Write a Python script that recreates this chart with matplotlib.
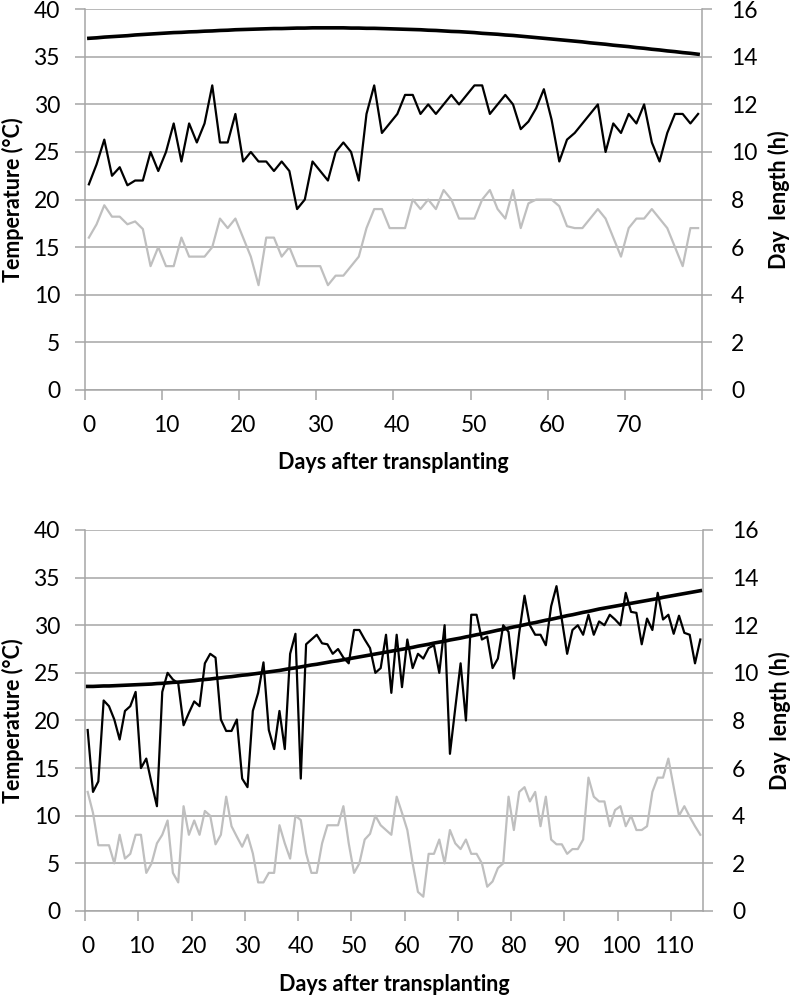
import numpy as np
import matplotlib
matplotlib.use('Agg')
import matplotlib.pyplot as plt

plt.rcParams['font.family'] = ['Lato', 'DejaVu Sans']

# ---- data: first season (80 days) ----
tmax_1 = [21.6, 23.7, 26.3, 22.5, 23.4, 21.5, 22.0, 22.0, 25.0, 23.0,
          25.0, 28.0, 24.0, 28.0, 26.0, 28.0, 32.0, 26.0, 26.0, 29.0,
          24.0, 25.0, 24.0, 24.0, 23.0, 24.0, 23.0, 19.0, 20.0, 24.0,
          23.0, 22.0, 25.0, 26.0, 25.0, 22.0, 29.0, 32.0, 27.0, 28.0,
          29.0, 31.0, 31.0, 29.0, 30.0, 29.0, 30.0, 31.0, 30.0, 31.0,
          32.0, 32.0, 29.0, 30.0, 31.0, 30.0, 27.4, 28.2, 29.6, 31.6,
          28.4, 24.0, 26.3, 27.0, 28.0, 29.0, 30.0, 25.0, 28.0, 27.0,
          29.0, 28.0, 30.0, 26.0, 24.0, 27.0, 29.0, 29.0, 28.0, 29.0]
tmin_1 = [16.0, 17.4, 19.4, 18.2, 18.2, 17.4, 17.7, 16.9, 13.0, 15.0,
          13.0, 13.0, 16.0, 14.0, 14.0, 14.0, 15.0, 18.0, 17.0, 18.0,
          16.0, 14.0, 11.0, 16.0, 16.0, 14.0, 15.0, 13.0, 13.0, 13.0,
          13.0, 11.0, 12.0, 12.0, 13.0, 14.0, 17.0, 19.0, 19.0, 17.0,
          17.0, 17.0, 20.0, 19.0, 20.0, 19.0, 21.0, 20.0, 18.0, 18.0,
          18.0, 20.0, 21.0, 19.0, 18.0, 21.0, 17.0, 19.6, 20.0, 20.0,
          20.0, 19.3, 17.2, 17.0, 17.0, 18.0, 19.0, 18.0, 16.0, 14.0,
          17.0, 18.0, 18.0, 19.0, 18.0, 17.0, 15.0, 13.0, 17.0, 17.0]
daylen_1 = [14.78, 14.80, 14.83, 14.85, 14.87, 14.89, 14.92, 14.94, 14.96, 14.98,
            15.00, 15.02, 15.03, 15.05, 15.06, 15.08, 15.09, 15.11, 15.12, 15.14,
            15.15, 15.16, 15.17, 15.18, 15.19, 15.19, 15.20, 15.21, 15.21, 15.22,
            15.22, 15.22, 15.22, 15.22, 15.21, 15.21, 15.20, 15.20, 15.19, 15.18,
            15.17, 15.16, 15.15, 15.14, 15.12, 15.11, 15.09, 15.07, 15.06, 15.04,
            15.02, 14.99, 14.97, 14.95, 14.92, 14.90, 14.87, 14.84, 14.81, 14.78,
            14.75, 14.72, 14.69, 14.66, 14.63, 14.59, 14.56, 14.53, 14.49, 14.46,
            14.43, 14.39, 14.36, 14.32, 14.29, 14.25, 14.22, 14.18, 14.15, 14.11]

# ---- data: second season (116 days) ----
tmax_2 = [19.0, 12.5, 13.6, 22.1, 21.5, 20.1, 18.0, 21.0, 21.5, 23.0,
          15.0, 16.0, 13.4, 11.0, 23.0, 25.0, 24.3, 23.9, 19.5, 20.8,
          22.0, 21.5, 26.0, 27.0, 26.6, 20.1, 18.9, 18.9, 20.1, 13.9,
          13.0, 21.0, 22.9, 26.1, 19.0, 17.0, 21.0, 17.0, 27.0, 29.1,
          13.9, 28.0, 28.5, 29.0, 28.1, 28.0, 27.0, 27.5, 26.6, 26.0,
          29.5, 29.5, 28.5, 27.6, 25.0, 25.5, 29.0, 22.9, 29.0, 23.5,
          28.5, 25.5, 27.0, 26.5, 27.6, 27.9, 25.0, 30.0, 16.5, 21.3,
          26.0, 20.0, 31.1, 31.1, 28.5, 28.8, 25.5, 26.5, 30.0, 29.3,
          24.4, 29.2, 33.1, 30.0, 29.0, 29.0, 27.9, 32.0, 34.1, 30.6,
          27.0, 29.5, 30.0, 29.0, 31.1, 29.0, 30.4, 30.0, 31.1, 30.6,
          30.0, 33.4, 31.4, 31.3, 28.0, 30.7, 29.5, 33.4, 30.6, 31.1,
          29.1, 31.0, 29.2, 29.0, 26.0, 28.5]
tmin_2 = [12.5, 10.3, 6.9, 6.9, 6.9, 5.0, 8.0, 5.5, 6.0, 8.0,
          8.0, 4.0, 5.0, 7.1, 8.0, 9.5, 4.0, 3.0, 11.0, 8.0,
          9.5, 8.0, 10.5, 10.0, 7.0, 8.0, 12.0, 8.9, 7.8, 6.75,
          8.0, 6.05, 3.0, 3.0, 4.0, 4.0, 9.0, 7.1, 5.5, 10.0,
          9.55, 6.05, 4.0, 4.0, 7.1, 9.0, 9.0, 9.0, 11.0, 7.1,
          4.0, 5.0, 7.5, 8.1, 10.0, 9.0, 8.5, 8.0, 12.0, 10.3,
          8.5, 5.0, 2.0, 1.5, 6.0, 6.0, 7.5, 5.0, 8.5, 7.1,
          6.5, 7.5, 6.0, 6.0, 5.0, 2.55, 3.1, 4.5, 5.0, 12.0,
          8.5, 12.5, 13.0, 11.5, 12.5, 8.9, 12.0, 7.5, 7.0, 7.0,
          6.0, 6.5, 6.5, 7.5, 14.0, 12.0, 11.5, 11.5, 8.9, 10.6,
          11.0, 8.9, 10.0, 8.5, 8.5, 8.9, 12.5, 14.0, 14.0, 16.0,
          13.0, 10.0, 11.0, 9.9, 8.9, 8.0]
daylen_2 = [9.43, 9.43, 9.44, 9.45, 9.45, 9.46, 9.47, 9.48, 9.49, 9.50,
            9.51, 9.52, 9.53, 9.55, 9.56, 9.58, 9.60, 9.61, 9.63, 9.65,
            9.67, 9.70, 9.72, 9.74, 9.77, 9.79, 9.82, 9.84, 9.87, 9.90,
            9.92, 9.95, 9.98, 10.01, 10.04, 10.07, 10.10, 10.14, 10.18, 10.21,
            10.25, 10.29, 10.33, 10.36, 10.40, 10.44, 10.48, 10.51, 10.55, 10.59,
            10.63, 10.67, 10.71, 10.75, 10.79, 10.83, 10.87, 10.91, 10.95, 10.99,
            11.03, 11.07, 11.12, 11.16, 11.20, 11.25, 11.29, 11.33, 11.38, 11.42,
            11.46, 11.51, 11.55, 11.60, 11.64, 11.69, 11.74, 11.79, 11.83, 11.88,
            11.93, 11.97, 12.02, 12.07, 12.11, 12.16, 12.21, 12.25, 12.30, 12.35,
            12.40, 12.44, 12.49, 12.54, 12.58, 12.63, 12.68, 12.72, 12.76, 12.80,
            12.84, 12.88, 12.92, 12.96, 13.00, 13.04, 13.08, 13.12, 13.17, 13.21,
            13.25, 13.29, 13.33, 13.37, 13.41, 13.45]

temp_ticks = list(range(0, 41, 5))
day_ticks = list(range(0, 17, 2))
GRID = '#a6a6a6'
GRAY = '#bfbfbf'
TFS = 16.5   # tick labels
LFS = 15.5   # axis titles


def panel(ax, tmax, tmin, daylen):
    n = len(tmax)
    x = np.arange(n)
    ax.plot(x, tmin, color=GRAY, lw=1.6, zorder=3)
    ax.plot(x, tmax, color='black', lw=1.6, zorder=4)
    ax.set_xlim(-0.5, n - 0.5)
    ax.set_ylim(0, 40)
    ax.set_yticks(temp_ticks)
    ax.set_yticklabels([str(v) for v in temp_ticks], fontsize=TFS)
    ax.yaxis.grid(True, color=GRID, lw=1.1)
    ax.set_axisbelow(True)
    # category axis: ticks between categories, labels at centres
    edges = np.arange(-0.5, n, 10)
    ax.set_xticks(edges, labels=[''] * len(edges))
    lab = np.arange(0, n, 10)
    ax.set_xticks(lab, labels=[str(v) for v in lab], minor=True)
    ax.tick_params(axis='x', which='major', length=7, width=1.1, color=GRID, direction='out')
    ax.tick_params(axis='x', which='minor', length=0, pad=18, labelsize=TFS)
    ax.tick_params(axis='y', length=7, width=1.1, color=GRID, pad=11)
    for s in ['top', 'right']:
        ax.spines[s].set_visible(False)
    for s in ['left', 'bottom']:
        ax.spines[s].set_color(GRID)
        ax.spines[s].set_linewidth(1.1)
    ax.set_xlabel('Days after transplanting', fontsize=LFS, fontweight='bold', labelpad=12)
    ax.set_ylabel('Temperature (°C)', fontsize=LFS, fontweight='bold')
    ax.yaxis.set_label_coords(-0.099, 0.5)

    ax2 = ax.twinx()
    ax2.plot(x, daylen, color='black', lw=2.6, zorder=5)
    ax2.set_ylim(0, 16)
    ax2.set_yticks(day_ticks)
    ax2.set_yticklabels([str(v) for v in day_ticks], fontsize=TFS)
    ax2.tick_params(axis='y', length=7, width=1.1, color=GRID, pad=14)
    for s in ['top', 'left', 'bottom']:
        ax2.spines[s].set_visible(False)
    ax2.spines['right'].set_color(GRID)
    ax2.spines['right'].set_linewidth(1.1)
    ax2.set_ylabel('Day  length (h)', fontsize=LFS, fontweight='bold')
    ax2.yaxis.set_label_coords(1.107, 0.5)


fig = plt.figure(figsize=(7.93, 9.99), dpi=100)
ax_top = fig.add_axes([0.1072, 0.6098, 0.778, 0.3809])
ax_bot = fig.add_axes([0.1072, 0.0881, 0.7793, 0.3814])
panel(ax_top, tmax_1, tmin_1, daylen_1)
panel(ax_bot, tmax_2, tmin_2, daylen_2)

fig.savefig('out.png', dpi=100)
